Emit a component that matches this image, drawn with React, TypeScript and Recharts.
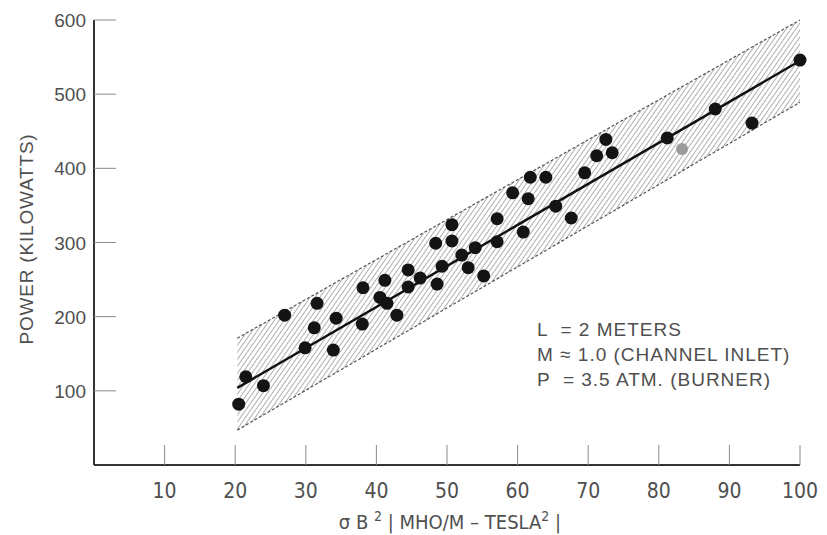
import React from 'react';
import { ComposedChart, Area, Line, Scatter, XAxis, YAxis } from 'recharts';

// x ticks / y ticks
const xTicks = [10, 20, 30, 40, 50, 60, 70, 80, 90, 100];
const yTicks = [100, 200, 300, 400, 500, 600];

// measured points (sigma B^2 vs power)
const pointX = [
  20.5, 21.5, 24, 27, 29.9, 31.2, 31.6, 33.9, 34.3, 38, 38.1, 40.5, 41.2, 41.5, 42.9,
  44.5, 44.5, 46.2, 48.4, 48.6, 49.3, 50.7, 50.7, 52.1, 53, 54, 55.2, 57.1, 57.1, 59.3,
  60.8, 61.5, 61.8, 64, 65.4, 67.6, 69.5, 71.2, 72.5, 73.4, 81.2, 88, 93.2, 100,
];
const pointY = [
  82, 119, 107, 202, 158, 185, 218, 155, 198, 190, 239, 226, 249, 218, 202,
  263, 240, 252, 299, 244, 268, 324, 302, 283, 266, 293, 255, 332, 301, 367,
  314, 359, 388, 388, 349, 333, 394, 417, 439, 421, 441, 480, 461, 546,
];

// faint grey point
const greyX = [83.3];
const greyY = [426];

// fitted line and scatter band
const bandX = [20.3, 100];
const bandLow = [47, 489];
const bandHigh = [171, 600];
const fitY = [104, 545];

const notes = ['L  = 2 METERS', 'M \u2248 1.0 (CHANNEL INLET)', 'P  = 3.5 ATM. (BURNER)'];

const bandData = bandX.map((x, i) => ({ x, band: [bandLow[i], bandHigh[i]], fit: fitY[i] }));
const points = pointX.map((x, i) => ({ x, y: pointY[i] }));
const greyPoints = greyX.map((x, i) => ({ x, y: greyY[i] }));

const textColor = '#4f4f4f';

const YTick = ({ x, y, payload }: any) => (
  <g>
    <line x1={x} x2={x + 22} y1={y} y2={y} stroke="#8a8a8a" strokeWidth={1} />
    <text x={x - 8} y={y + 7} textAnchor="end" fontSize={19} fill={textColor}
      fontFamily="'Liberation Sans', Arial, sans-serif">
      {payload.value}
    </text>
  </g>
);

const XTick = ({ x, y, payload }: any) => (
  <g>
    <line x1={x} x2={x} y1={y} y2={y - 20} stroke="#8a8a8a" strokeWidth={1} />
    <text x={x} y={y + 33} textAnchor="middle" fontSize={21} fill={textColor}
      fontFamily="'Liberation Sans Narrow', 'DejaVu Sans Condensed', sans-serif">
      {payload.value}
    </text>
  </g>
);

const Dot = ({ cx, cy }: any) => <circle cx={cx} cy={cy} r={6.5} fill="#141414" />;
const GreyDot = ({ cx, cy }: any) => <circle cx={cx} cy={cy} r={6} fill="#9a9a9a" />;

const App: React.FC = () => {
  return (
    <div style={{ position: 'absolute', left: 0, top: 0, width: 827, height: 535, background: '#fff' }}>
      <ComposedChart
        width={827}
        height={535}
        data={bandData}
        margin={{ top: 20, right: 27, left: 34, bottom: 40 }}
      >
        <defs>
          <pattern id="hatch" width={4} height={4} patternUnits="userSpaceOnUse" patternTransform="rotate(35)">
            <line x1={0} y1={0} x2={0} y2={4} stroke="#8c8c8c" strokeWidth={1.4} />
          </pattern>
        </defs>
        <XAxis
          type="number"
          dataKey="x"
          domain={[0, 100]}
          ticks={xTicks}
          height={30}
          tickSize={0}
          tickMargin={0}
          tick={<XTick />}
          axisLine={{ stroke: '#333', strokeWidth: 2 }}
        />
        <YAxis
          type="number"
          domain={[0, 600]}
          ticks={yTicks}
          width={60}
          tickSize={0}
          tickMargin={0}
          tick={<YTick />}
          axisLine={{ stroke: '#333', strokeWidth: 2 }}
        />
        <Area
          type="linear"
          dataKey="band"
          fill="url(#hatch)"
          fillOpacity={1}
          stroke="#555"
          strokeWidth={1.2}
          strokeDasharray="3 2"
          isAnimationActive={false}
        />
        <Line
          type="linear"
          dataKey="fit"
          stroke="#111"
          strokeWidth={2.5}
          dot={false}
          isAnimationActive={false}
        />
        <Scatter data={greyPoints} dataKey="y" shape={<GreyDot />} isAnimationActive={false} />
        <Scatter data={points} dataKey="y" shape={<Dot />} isAnimationActive={false} />
      </ComposedChart>

      <svg width={827} height={535} style={{ position: 'absolute', left: 0, top: 0, pointerEvents: 'none' }}>
        <text
          transform="translate(33,239) rotate(-90)"
          textAnchor="middle"
          fontSize={19}
          letterSpacing={0.8}
          fill={textColor}
          fontFamily="'Liberation Sans', Arial, sans-serif"
        >
          POWER (KILOWATTS)
        </text>
        <text
          x={450}
          y={529}
          textAnchor="middle"
          fontSize={20}
          fill={textColor}
          fontFamily="'Liberation Sans Narrow', 'DejaVu Sans Condensed', sans-serif"
        >
          <tspan>{'\u03C3 B '}</tspan>
          <tspan dy={-8} fontSize={14}>2</tspan>
          <tspan dy={8}>{' | MHO/M \u2013 TESLA'}</tspan>
          <tspan dy={-8} fontSize={14}>2</tspan>
          <tspan dy={8}>{' |'}</tspan>
        </text>
        {notes.map((n, i) => (
          <text
            key={n}
            x={537}
            y={336 + i * 25}
            fontSize={19}
            letterSpacing={1}
            fill={textColor}
            fontFamily="'Liberation Sans', Arial, sans-serif"
            style={{ whiteSpace: 'pre' }}
          >
            {n}
          </text>
        ))}
      </svg>
    </div>
  );
};

export default App;
